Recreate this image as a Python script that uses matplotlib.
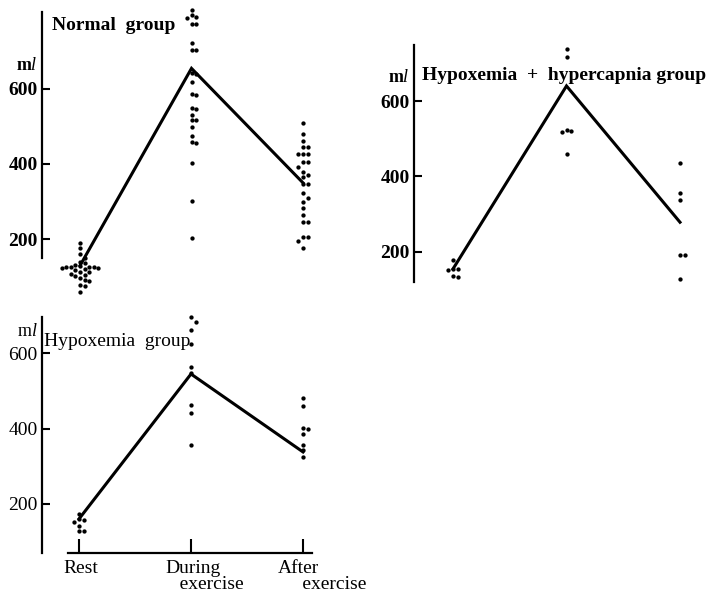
import numpy as np
import matplotlib
matplotlib.use('Agg')
import matplotlib.pyplot as plt
from matplotlib.transforms import ScaledTranslation

plt.rcParams['font.family'] = ['Liberation Serif', 'DejaVu Serif']
plt.rcParams['mathtext.fontset'] = 'custom'
plt.rcParams['mathtext.rm'] = 'Liberation Serif'
plt.rcParams['mathtext.it'] = 'Liberation Serif:italic'
plt.rcParams['mathtext.bf'] = 'Liberation Serif:bold'

# ---- data (ml)
phases = ['Rest', 'During\n   exercise', 'After\n     exercise']
yticks = [200, 400, 600]

normal_rest = [189, 176, 161, 150, 141, 136, 132, 128, 127, 127, 126, 126, 125,
               124, 120, 118, 114, 112, 108, 105, 102, 98, 92, 90, 79, 76, 61]
normal_during = [810, 796, 790, 788, 773, 772, 722, 703, 702, 642, 640, 619, 586,
                 584, 549, 547, 530, 518, 516, 497, 474, 458, 456, 402, 303, 203]
normal_after = [510, 481, 462, 446, 446, 427, 427, 427, 404, 404, 393, 380, 371, 366,
                347, 347, 322, 311, 300, 282, 265, 247, 247, 207, 207, 196, 178]
normal_mean = [130, 654, 350]

hh_rest = [178, 155, 153, 152, 134, 132]
hh_during = [739, 718, 523, 520, 518, 460]
hh_after = [434, 356, 338, 192, 192, 127]
hh_mean = [154, 640, 278]

hyp_rest = [173, 160, 156, 152, 142, 128, 127]
hyp_during = [696, 684, 662, 624, 564, 548, 464, 442, 356]
hyp_after = [482, 460, 402, 398, 385, 357, 342, 324]
hyp_mean = [160, 545, 338]

W, H = 711, 595
K = 75.3 / 200          # px per ml
fig = plt.figure(figsize=(W / 100, H / 100), dpi=100)


def panel(spine, x0, x2, y600, top, bottom, right, sp_top, sp_bot):
    ax = fig.add_axes([spine / W, 1 - bottom / H, (right - spine) / W, (bottom - top) / H])
    ppu = (x2 - x0) / 2
    ax.set_xlim((spine - x0) / ppu, (right - x0) / ppu)
    ax.set_ylim(600 - (bottom - y600) / K, 600 + (y600 - top) / K)
    for s in ['top', 'right', 'bottom']:
        ax.spines[s].set_visible(False)
    ax.spines['left'].set_linewidth(1.6)
    ax.spines['left'].set_bounds(600 - (sp_bot - y600) / K, 600 + (y600 - sp_top) / K)
    ax.set_yticks(yticks)
    ax.tick_params(axis='y', direction='in', length=6, width=1.5, pad=3, labelsize=14)
    ax.set_xticks([])
    ax.patch.set_alpha(0)
    ax.ppu = ppu
    return ax


def swarm(ax, vals, xc, d=4.6):
    placed = []
    xs = []
    for v in vals:
        y = v * K
        for j in [0, 1, -1, 2, -2, 3, -3, 4, -4, 5, -5]:
            x = j * d
            if all((x - px) ** 2 + (y - py) ** 2 >= d * d for px, py in placed):
                break
        placed.append((x, y))
        xs.append(xc + x / ax.ppu)
    ax.plot(xs, vals, 'o', color='black', ms=3.1, mec='none')


def draw(ax, groups, mean):
    for i, g in enumerate(groups):
        swarm(ax, g, i)
    ax.plot([0, 1, 2], mean, color='black', lw=2.2, solid_joinstyle='miter')


def ftext(x, y, s, **kw):
    fig.text(x / W, 1 - y / H, s, **kw)


ax1 = panel(42, 80, 303, 88.7, 0, 300, 360, 12, 258)
draw(ax1, [normal_rest, normal_during, normal_after], normal_mean)
for t in ax1.get_yticklabels():
    t.set_fontweight('bold')

ax2 = panel(414, 453, 680, 101, 40, 292, 711, 45, 282)
draw(ax2, [hh_rest, hh_during, hh_after], hh_mean)
for t in ax2.get_yticklabels():
    t.set_fontweight('bold')

ax3 = panel(42, 79, 303, 353.3, 310, 553, 370, 317, 553)
draw(ax3, [hyp_rest, hyp_during, hyp_after], hyp_mean)
ax3.spines['bottom'].set_visible(True)
ax3.spines['bottom'].set_linewidth(1.6)
ax3.spines['bottom'].set_bounds((68 - 79) / ax3.ppu, (312 - 79) / ax3.ppu)
ax3.set_xticks([0, 1, 2], phases)
ax3.tick_params(axis='x', direction='in', length=10, width=1.5, pad=5, labelsize=14)
shifts = [-16, -26, -25]
for t, dx in zip(ax3.get_xticklabels(), shifts):
    t.set_ha('left')
    t.set_multialignment('left')
    t.set_linespacing(0.95)
    t.set_transform(t.get_transform() + ScaledTranslation(dx / 100, 0, fig.dpi_scale_trans))

# titles and unit labels
ftext(52, 25, 'Normal  group', fontsize=14, fontweight='bold', va='center')
ftext(422, 75, 'Hypoxemia  +  hypercapnia group', fontsize=14, fontweight='bold', va='center')
ftext(44, 341, 'Hypoxemia  group', fontsize=14, va='center')
ftext(38, 66, r'm$\mathit{l}$', fontsize=13, fontweight='bold', ha='right', va='center')
ftext(410, 77, r'm$\mathit{l}$', fontsize=13, fontweight='bold', ha='right', va='center')
ftext(38, 332, r'm$\mathit{l}$', fontsize=13, ha='right', va='center')

fig.savefig('out.png', dpi=100)
